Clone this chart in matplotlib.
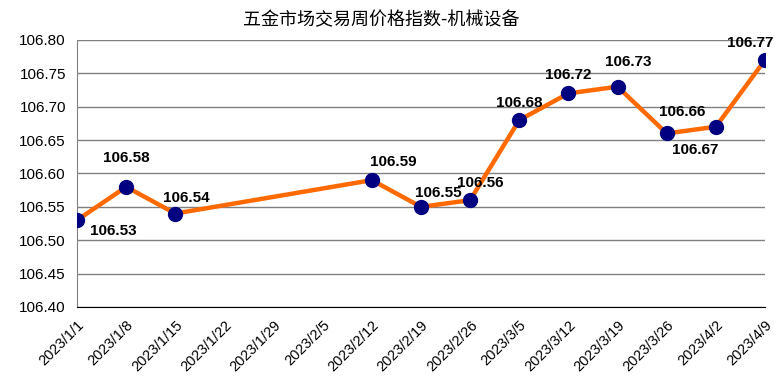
import matplotlib
matplotlib.use("Agg")
import matplotlib.pyplot as plt
import matplotlib.dates as mdates
import pandas as pd

plt.rcParams['font.family'] = ['Liberation Sans', 'Noto Sans CJK SC', 'DejaVu Sans']

title = "五金市场交易周价格指数-机械设备"
dates = ["2023-01-01", "2023-01-08", "2023-01-15", "2023-02-12", "2023-02-19", "2023-02-26",
         "2023-03-05", "2023-03-12", "2023-03-19", "2023-03-26", "2023-04-02", "2023-04-09"]
values = [106.53, 106.58, 106.54, 106.59, 106.55, 106.56,
          106.68, 106.72, 106.73, 106.66, 106.67, 106.77]

# label offsets in pixels (dx, dy)
offs = [(36, -11), (0, 29), (11, 16), (21, 18), (17, 14), (10, 17),
        (0, 17), (0, 18), (11, 25), (15, 21), (-21, -23), (-15, 17)]

x = pd.to_datetime(dates)

fig = plt.figure(figsize=(7.81, 3.88), dpi=100)
ax = fig.add_axes([0.0986, 0.2088, 0.8809, 0.6882])

ax.plot(x, values, color='#ff6a00', lw=3.2, zorder=3)
ax.plot(x, values, 'o', color='#000080', ms=10, zorder=4)

for xi, v, (dx, dy) in zip(x, values, offs):
    ax.annotate(f"{v:.2f}", (xi, v), xytext=(dx * 0.72, dy * 0.72), textcoords='offset points',
                ha='center', va='center', fontsize=11, fontweight='bold', color='black', zorder=5)

ax.set_ylim(106.40, 106.80)
ax.set_yticks([106.40 + 0.05 * i for i in range(9)])
ax.yaxis.set_major_formatter(plt.FuncFormatter(lambda v, p: f"{v:.2f}"))
ax.grid(axis='y', color='#808080', lw=1)
ax.set_axisbelow(True)

ticks = pd.date_range("2023-01-01", "2023-04-09", freq='7D')
ax.set_xlim(ticks[0], ticks[-1])
ax.set_xticks(ticks)
ax.set_xticklabels([f"{d.year}/{d.month}/{d.day}" for d in ticks], rotation=45,
                   ha='right', rotation_mode='anchor', fontsize=10.5)
ax.tick_params(axis='both', length=0, labelsize=11)
ax.tick_params(axis='x', pad=8, labelsize=10.5)
ax.tick_params(axis='y', pad=8)

for s in ['top', 'right']:
    ax.spines[s].set_visible(False)
ax.spines['left'].set_color('#808080')
ax.spines['bottom'].set_color('black')

fig.text(0.488, 0.948, title, ha='center', va='center', fontsize=13,
         family=['Noto Sans CJK SC', 'DejaVu Sans'])

fig.savefig("out.png", dpi=100)
